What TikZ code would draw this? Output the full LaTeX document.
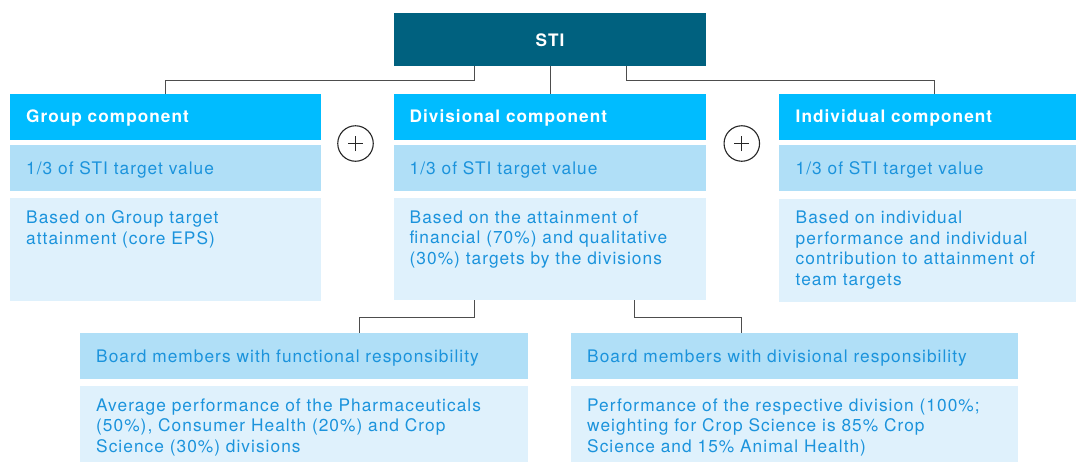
\documentclass[tikz,border=0pt]{standalone}
\usepackage{fontspec}
\setmainfont{TeX Gyre Heros}[LetterSpace=6]
\definecolor{stiC}{HTML}{00617F}
\definecolor{hdrC}{HTML}{00BCFF}
\definecolor{midC}{HTML}{B0DFF7}
\definecolor{lightC}{HTML}{DFF1FC}
\definecolor{txtC}{HTML}{1B93DC}
\definecolor{lineC}{HTML}{4D4D4D}
\begin{document}
\begin{tikzpicture}[x=1pt,y=-1pt,
  box/.style={rectangle,inner sep=0pt,anchor=north west},
  hdrbox/.style={box,fill=hdrC,minimum height=46},
  midbox/.style={box,fill=midC,minimum height=46},
  lightbox/.style={box,fill=lightC},
  htxt/.style={inner sep=0pt,anchor=base west,text=white,font=\fontsize{17.2}{20.5}\selectfont\bfseries},
  btxt/.style={inner sep=0pt,text=txtC,font=\fontsize{17.3}{20.5}\selectfont},
  conn/.style={draw=lineC,line width=1pt},
  plus/.style={circle,draw=black!85,line width=1.1pt,minimum size=35.5,inner sep=0pt,
    path picture={\draw[line width=1.1pt,black!85] ([xshift=-7.5pt]path picture bounding box.center) -- ([xshift=7.5pt]path picture bounding box.center)
      ([yshift=-7.5pt]path picture bounding box.center) -- ([yshift=7.5pt]path picture bounding box.center);}}
]
\useasboundingbox (0,0) rectangle (1076,461);
\clip (0,0) rectangle (1076,461);
\fill[white] (0,0) rectangle (1076,461);

% STI
\node[box,fill=stiC,minimum width=312,minimum height=53] (sti) at (394,13) {};
\node[inner sep=0pt,anchor=base,text=white,font=\fontsize{17.2}{20}\selectfont\bfseries] (stit) at (550,46) {STI};

% Group component
\node[hdrbox,minimum width=311] (gh) at (10,94) {};
\node[midbox,minimum width=311] (gm) at (10,145) {};
\node[lightbox,minimum width=311,minimum height=103] (gl) at (10,198) {};
\node[htxt] (ght) at (26,122) {Group component};
\node[btxt,anchor=base west] (gmt) at (26,174) {1/3 of STI target value};
\node[btxt,anchor=north west,align=left] (glt) at (26,210.5) {Based on Group target\\attainment (core EPS)};

% Divisional component
\node[hdrbox,minimum width=312] (dh) at (394,94) {};
\node[midbox,minimum width=312] (dm) at (394,145) {};
\node[lightbox,minimum width=312,minimum height=102] (dl) at (394,198) {};
\node[htxt] (dht) at (409.5,122) {Divisional component};
\node[btxt,anchor=base west] (dmt) at (409.5,174) {1/3 of STI target value};
\node[btxt,anchor=north west,align=left] (dlt) at (409.5,210.5) {Based on the attainment of\\financial (70\%) and qualitative\\(30\%) targets by the divisions};

% Individual component
\node[hdrbox,minimum width=311] (ih) at (779,94) {};
\node[midbox,minimum width=311] (im) at (779,145) {};
\node[lightbox,minimum width=311,minimum height=103] (il) at (779,199) {};
\node[htxt] (iht) at (795.5,122) {Individual component};
\node[btxt,anchor=base west] (imt) at (795.5,174) {1/3 of STI target value};
\node[btxt,anchor=north west,align=left] (ilt) at (795.5,211) {Based on individual\\performance and individual\\contribution to attainment of\\team targets};

% plus signs
\node[plus] (p1) at (355.5,143.5) {};
\node[plus] (p2) at (741.8,143.5) {};

% bottom boxes
\node[box,fill=midC,minimum width=448,minimum height=45.5] (bh) at (80,333) {};
\node[lightbox,minimum width=448,minimum height=90] (bl) at (80,386) {};
\node[btxt,anchor=base west] (bht) at (96,362.5) {Board members with functional responsibility};
\node[btxt,anchor=north west,align=left] (blt) at (96,398.5) {Average performance of the Pharmaceuticals\\(50\%), Consumer Health (20\%) and Crop\\Science (30\%) divisions};

\node[box,fill=midC,minimum width=447,minimum height=45.5] (rh) at (571,333) {};
\node[lightbox,minimum width=447,minimum height=90] (rl) at (571,386) {};
\node[btxt,anchor=base west] (rht) at (587,362.5) {Board members with divisional responsibility};
\node[btxt,anchor=north west,align=left] (rlt) at (587,398.5) {Performance of the respective division (100\%;\\weighting for Crop Science is 85\% Crop\\Science and 15\% Animal Health)};

% connectors
\draw[conn] ([xshift=80pt]sti.south west) -- ++(0,14) -| (gh.north);
\draw[conn] (sti.south) -- (dh.north);
\draw[conn] ([xshift=-80pt]sti.south east) -- ++(0,14) -| (ih.north);
\draw[conn] ([xshift=80pt]dl.south west) -- ++(0,17) -| ([xshift=279pt]bh.north west);
\draw[conn] ([xshift=-72pt]dl.south east) -- ++(0,17) -| ([xshift=170pt]rh.north west);
\end{tikzpicture}
\end{document}
